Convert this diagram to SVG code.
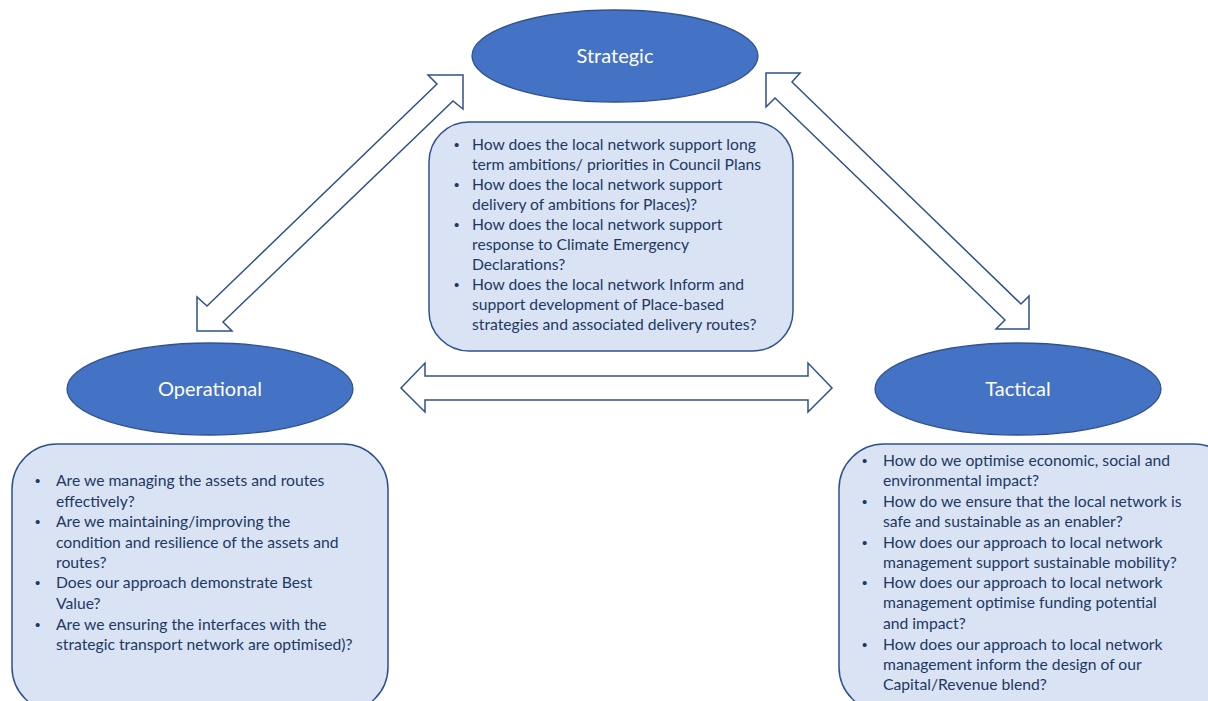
<svg xmlns="http://www.w3.org/2000/svg" width="1208" height="701" viewBox="0 0 1208 701">
<style>
.ell{fill:#4472C4;stroke:#2F528F;stroke-width:1.3}
.lbl{font-family:Lato,"Liberation Sans",sans-serif;font-size:20px;fill:#ffffff;text-anchor:middle}
.box{fill:#DAE3F3;stroke:#2F528F;stroke-width:1.5}
.txt{font-family:Lato,"Liberation Sans",sans-serif;font-size:15.7px;fill:#203864}
.bul{font-family:"Liberation Sans",sans-serif;font-size:15px;fill:#203864}
.arr{fill:#ffffff;stroke:#2F528F;stroke-width:1.5;stroke-linejoin:miter}
</style>
<rect width="1208" height="701" fill="#ffffff"/>
<g id="connectors">
<polygon class="arr" points="463,75 463,109 453,101 223,322 232,331 197,331 197,297 207,306 437,84 428,75"/>
<polygon class="arr" points="766,73 800,73 792,82 1021,304 1029,296 1029,329 996,329 1005,320 775,98 766,107"/>
<polygon class="arr" points="401,388 425,363 425,376 808,376 808,363 832,388 808,412 808,400 425,400 425,412"/>
</g>
<g id="strategic">
<ellipse class="ell" cx="615" cy="56" rx="143" ry="46"/>
<text class="lbl" x="615" y="63">Strategic</text>
</g>
<g id="strategic-questions">
<rect class="box" x="429" y="122" width="364" height="229" rx="40" ry="40"/>
<g class="bul">
<text x="454" y="150">•</text><text x="454" y="190">•</text><text x="454" y="230">•</text><text x="454" y="290">•</text>
</g>
<g class="txt">
<text x="472" y="150">How does the local network support long</text>
<text x="472" y="170">term ambitions/ priorities in Council Plans</text>
<text x="472" y="190">How does the local network support</text>
<text x="472" y="210">delivery of ambitions for Places)?</text>
<text x="472" y="230">How does the local network support</text>
<text x="472" y="250">response to Climate Emergency</text>
<text x="472" y="270">Declarations?</text>
<text x="472" y="290">How does the local network Inform and</text>
<text x="472" y="310">support development of Place-based</text>
<text x="472" y="330">strategies and associated delivery routes?</text>
</g>
</g>
<g id="operational">
<ellipse class="ell" cx="210" cy="389" rx="143" ry="46"/>
<text class="lbl" x="210" y="396">Operational</text>
</g>
<g id="operational-questions">
<rect class="box" x="12" y="444" width="376" height="268" rx="45" ry="45"/>
<g class="bul">
<text x="35" y="486">•</text><text x="35" y="527">•</text><text x="35" y="588">•</text><text x="35" y="630">•</text>
</g>
<g class="txt">
<text x="56" y="486">Are we managing the assets and routes</text>
<text x="56" y="507">effectively?</text>
<text x="56" y="527">Are we maintaining/improving the</text>
<text x="56" y="548">condition and resilience of the assets and</text>
<text x="56" y="568">routes?</text>
<text x="56" y="588">Does our approach demonstrate Best</text>
<text x="56" y="609">Value?</text>
<text x="56" y="630">Are we ensuring the interfaces with the</text>
<text x="56" y="650">strategic transport network are optimised)?</text>
</g>
</g>
<g id="tactical">
<ellipse class="ell" cx="1018" cy="389" rx="143" ry="46"/>
<text class="lbl" x="1018" y="396">Tactical</text>
</g>
<g id="tactical-questions">
<rect class="box" x="839" y="444" width="400" height="268" rx="45" ry="45"/>
<g class="bul">
<text x="862" y="466">•</text><text x="862" y="507">•</text><text x="862" y="548">•</text><text x="862" y="588">•</text><text x="862" y="650">•</text>
</g>
<g class="txt">
<text x="883" y="466">How do we optimise economic, social and</text>
<text x="883" y="486">environmental impact?</text>
<text x="883" y="507">How do we ensure that the local network is</text>
<text x="883" y="527">safe and sustainable as an enabler?</text>
<text x="883" y="548">How does our approach to local network</text>
<text x="883" y="568">management support sustainable mobility?</text>
<text x="883" y="588">How does our approach to local network</text>
<text x="883" y="608">management optimise funding potential</text>
<text x="883" y="629">and impact?</text>
<text x="883" y="650">How does our approach to local network</text>
<text x="883" y="670">management inform the design of our</text>
<text x="883" y="690">Capital/Revenue blend?</text>
</g>
</g>
</svg>
